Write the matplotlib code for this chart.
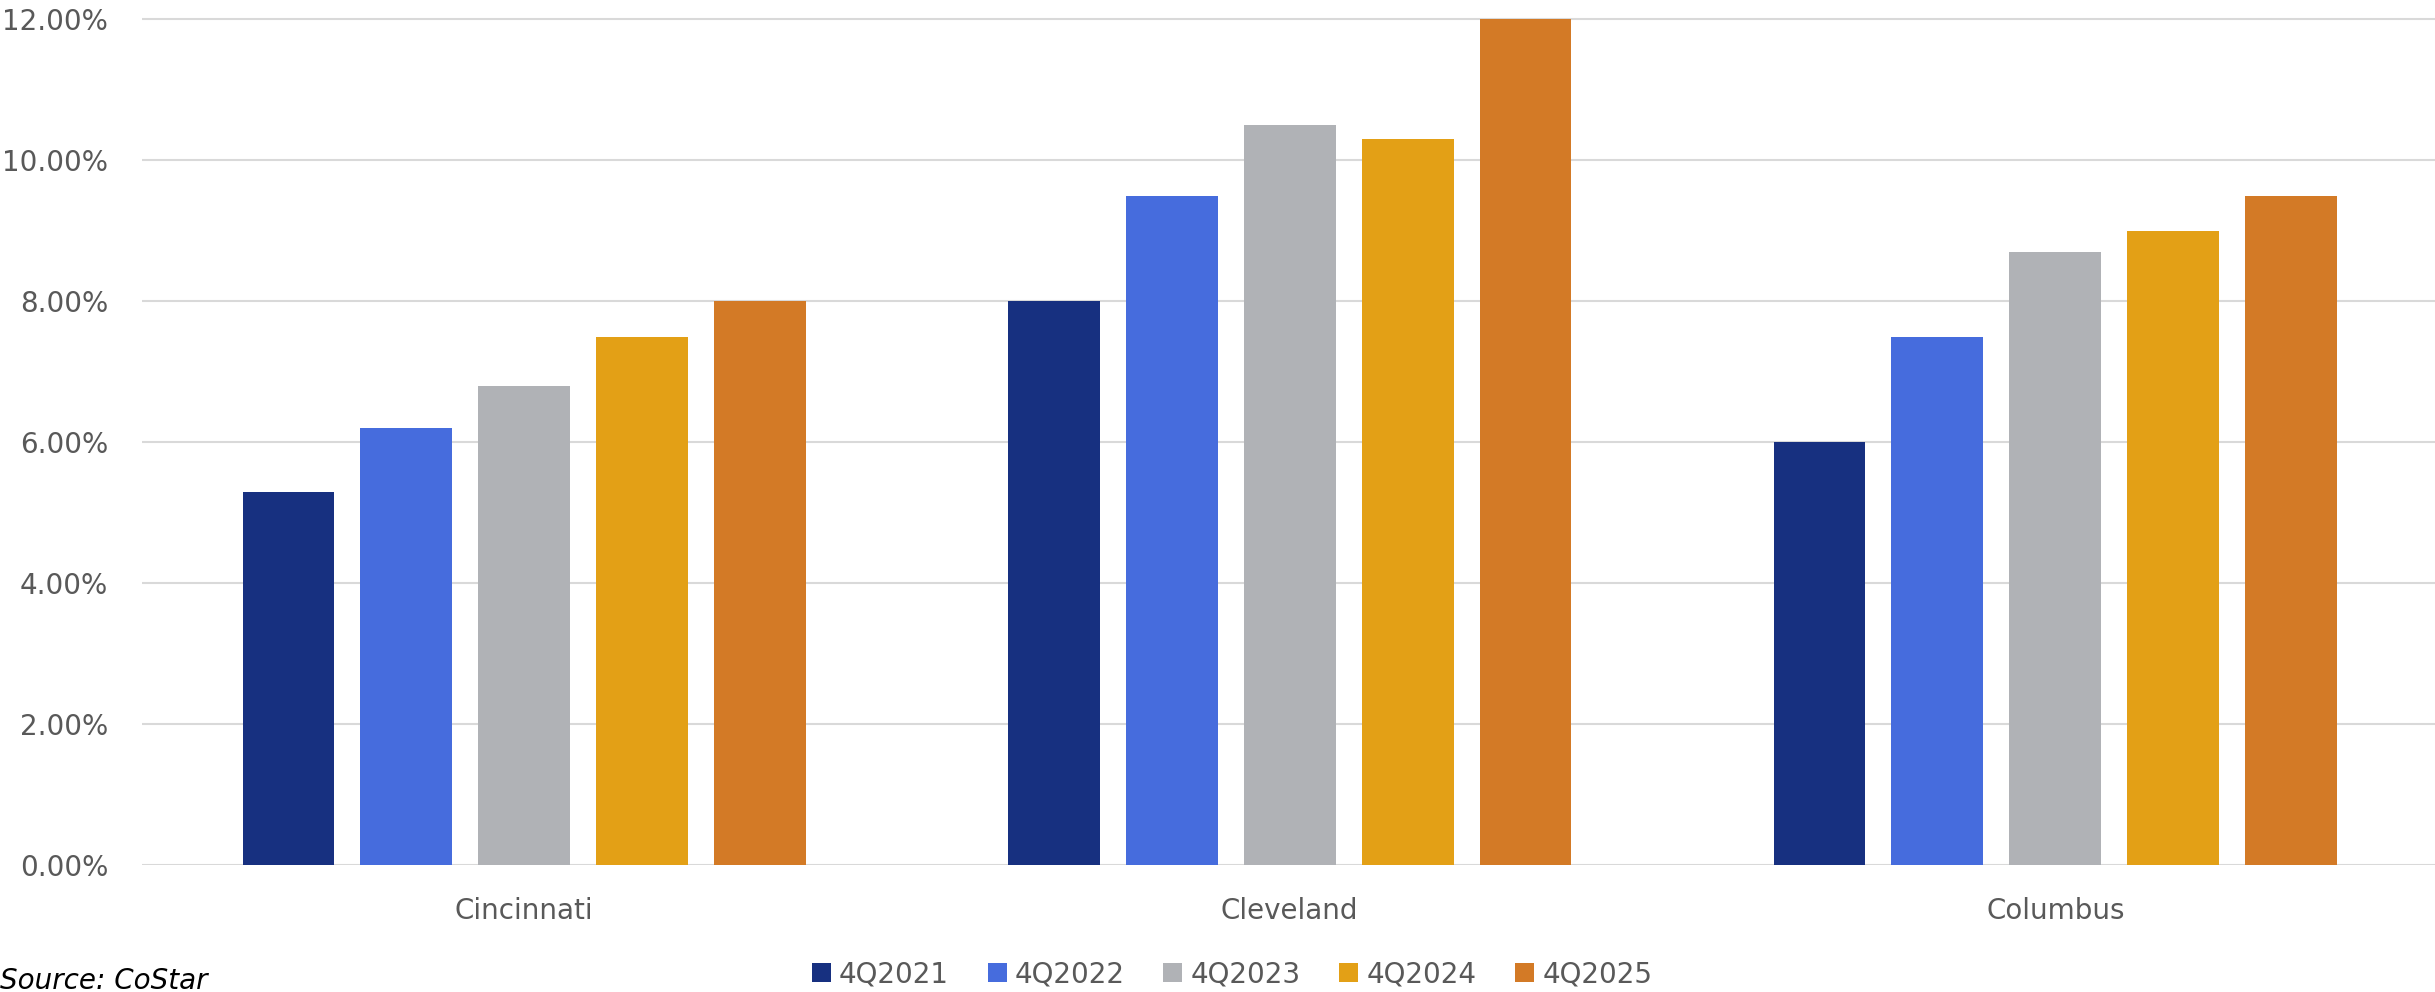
import matplotlib
matplotlib.use("Agg")
import matplotlib.pyplot as plt
from matplotlib.patches import Patch
import numpy as np

categories = ["Cincinnati", "Cleveland", "Columbus"]
series_names = ["4Q2021", "4Q2022", "4Q2023", "4Q2024", "4Q2025"]
v_2021 = [5.3, 8.0, 6.0]
v_2022 = [6.2, 9.5, 7.5]
v_2023 = [6.8, 10.5, 8.7]
v_2024 = [7.5, 10.3, 9.0]
v_2025 = [8.0, 12.0, 9.5]
series_values = [v_2021, v_2022, v_2023, v_2024, v_2025]
colors = ["#173080", "#466CDD", "#B0B2B6", "#E3A016", "#D37A26"]
y_ticks = [0, 2, 4, 6, 8, 10, 12]

plt.rcParams['font.family'] = ['DejaVu Sans']
W, H = 2435, 992
fig = plt.figure(figsize=(W / 100, H / 100), dpi=100)

left_px, right_px = 141.5, 2438
zero_px, unit_px = 865.3, 70.5
ytop = 12.1
ax = fig.add_axes([left_px / W, (H - zero_px) / H,
                   (right_px - left_px) / W, ytop * unit_px / H])

x = np.arange(len(categories))
step, width = 0.154, 0.120
for j, (name, vals) in enumerate(zip(series_names, series_values)):
    ax.bar(x + (j - 2) * step, vals, width=width, color=colors[j], label=name, zorder=3)

ax.set_xlim(-0.5, 2.5)
ax.set_ylim(0, ytop)
ax.set_yticks(y_ticks)
ax.set_yticklabels([f"{t:.2f}%" for t in y_ticks])
ax.set_xticks(x)
ax.set_xticklabels(categories)
ax.grid(axis='y', color='#D9D9D9', linewidth=1.5, zorder=0)
ax.set_axisbelow(True)
for s in ax.spines.values():
    s.set_visible(False)
ax.tick_params(axis='both', length=0, labelsize=20, labelcolor='#595959')
ax.tick_params(axis='y', pad=24)
ax.tick_params(axis='x', pad=23)

handles = [Patch(facecolor=c, edgecolor='none') for c in colors]
fig.legend(handles, series_names, loc='center', bbox_to_anchor=(1232 / W, (H - 974) / H),
           ncol=5, frameon=False, fontsize=20, labelcolor='#595959',
           handlelength=0.68, handleheight=0.68, handletextpad=0.29,
           columnspacing=1.4, borderpad=0, borderaxespad=0)

fig.text(0.0, 3 / H, "Source: CoStar", va='baseline', ha='left',
         fontsize=20, style='italic', color='black')

fig.savefig("out.png", dpi=100, facecolor='white')
